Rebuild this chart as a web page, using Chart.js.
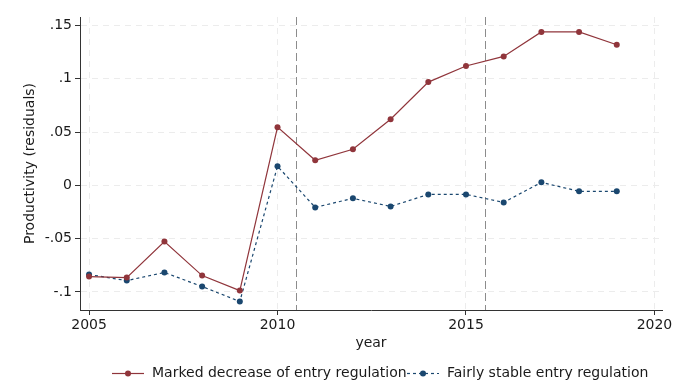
<!DOCTYPE html>
<html>
<head>
<meta charset="utf-8">
<script src="https://cdn.jsdelivr.net/npm/chart.js@4/dist/chart.umd.min.js"></script>
<style>
  html, body { margin: 0; padding: 0; background: #fff; }
  canvas { display: block; }
</style>
</head>
<body>
<canvas id="chart" width="687" height="386"></canvas>
<script>
// Daten
const years = [2005, 2006, 2007, 2008, 2009, 2010, 2011, 2012, 2013, 2014, 2015, 2016, 2017, 2018, 2019];
const markedDecrease = [-0.0856, -0.0866, -0.0527, -0.0847, -0.0988, 0.0546, 0.0235, 0.0339, 0.0621, 0.0969, 0.112, 0.121, 0.144, 0.144, 0.132];
const fairlyStable = [-0.0837, -0.0894, -0.0818, -0.095, -0.109, 0.0179, -0.0207, -0.0122, -0.0198, -0.0085, -0.0085, -0.016, 0.0028, -0.0056, -0.0056];
const seriesLabels = ['Marked decrease of entry regulation', 'Fairly stable entry regulation'];
const xTicks = [2005, 2010, 2015, 2020];
const yTicks = [-0.1, -0.05, 0, 0.05, 0.1, 0.15];
const yTickLabels = ['-.1', '-.05', '0', '.05', '.1', '.15'];
const refLines = [2010.5, 2015.5];

const FONT = 'DejaVu Sans';
const red = '#90353b';
const blue = '#1a476f';

function toPoints(values) {
    return years.map((y, i) => ({ x: y, y: values[i] }));
}

// vertikale Referenzlinien
const refLinePlugin = {
    id: 'refLines',
    beforeDatasetsDraw(chart) {
        const ctx = chart.ctx;
        const area = chart.chartArea;
        const xs = chart.scales.x;
        ctx.save();
        ctx.strokeStyle = '#8c8c8c';
        ctx.lineWidth = 1;
        ctx.setLineDash([8, 4]);
        refLines.forEach(v => {
            const px = Math.round(xs.getPixelForValue(v)) + 0.5;
            ctx.beginPath();
            ctx.moveTo(px, area.top);
            ctx.lineTo(px, area.bottom);
            ctx.stroke();
        });
        ctx.restore();
    }
};

// Legende unten
const legendPlugin = {
    id: 'stataLegend',
    afterDraw(chart) {
        const ctx = chart.ctx;
        const starts = [112, 407];
        const y = 373.5;
        ctx.save();
        ctx.font = '14px "' + FONT + '"';
        ctx.textBaseline = 'middle';
        chart.data.datasets.forEach((ds, i) => {
            const x0 = starts[i];
            ctx.strokeStyle = ds.borderColor;
            ctx.lineWidth = ds.borderWidth;
            ctx.setLineDash(ds.borderDash || []);
            ctx.beginPath();
            ctx.moveTo(x0, y);
            ctx.lineTo(x0 + 32, y);
            ctx.stroke();
            ctx.setLineDash([]);
            ctx.fillStyle = ds.pointBackgroundColor;
            ctx.beginPath();
            ctx.arc(x0 + 16, y, 3, 0, Math.PI * 2);
            ctx.fill();
            ctx.fillStyle = '#1a1a1a';
            ctx.fillText(ds.label, x0 + 40, y);
        });
        ctx.restore();
    }
};

new Chart(document.getElementById('chart'), {
    type: 'line',
    data: {
        datasets: [{
            label: seriesLabels[0],
            data: toPoints(markedDecrease),
            borderColor: red,
            backgroundColor: red,
            pointBackgroundColor: red,
            pointBorderColor: red,
            borderWidth: 1.2,
            pointRadius: 3,
            pointBorderWidth: 0,
            tension: 0
        }, {
            label: seriesLabels[1],
            data: toPoints(fairlyStable),
            borderColor: blue,
            backgroundColor: blue,
            pointBackgroundColor: blue,
            pointBorderColor: blue,
            borderWidth: 1.2,
            borderDash: [3, 3],
            pointRadius: 3,
            pointBorderWidth: 0,
            tension: 0
        }]
    },
    options: {
        responsive: false,
        devicePixelRatio: 1,
        animation: false,
        layout: { padding: { top: 17, right: 25, left: 22, bottom: 31 } },
        plugins: {
            legend: { display: false },
            tooltip: { enabled: false }
        },
        scales: {
            x: {
                type: 'linear',
                min: 2004.76,
                max: 2020.2,
                afterBuildTicks: s => { s.ticks = xTicks.map(v => ({ value: v })); },
                afterFit: s => { s.height = 45; },
                ticks: {
                    color: '#1a1a1a',
                    font: { family: FONT, size: 14 },
                    padding: 2,
                    maxRotation: 0,
                    callback: v => String(v)
                },
                grid: {
                    color: '#ececec',
                    tickBorderDash: [],
                    tickColor: '#333',
                    tickLength: 5,
                    drawTicks: true
                },
                border: { display: true, color: '#333', width: 1, dash: [6, 5] },
                title: {
                    display: true,
                    text: 'year',
                    color: '#1a1a1a',
                    font: { family: FONT, size: 14 },
                    padding: { top: 0, bottom: 3 }
                }
            },
            y: {
                min: -0.117,
                max: 0.158,
                afterBuildTicks: s => { s.ticks = yTicks.map(v => ({ value: v })); },
                afterFit: s => { s.width = 58; },
                ticks: {
                    color: '#1a1a1a',
                    font: { family: FONT, size: 14 },
                    padding: 3,
                    callback: (v) => {
                        const i = yTicks.findIndex(t => Math.abs(t - v) < 1e-9);
                        return i >= 0 ? yTickLabels[i] : '';
                    }
                },
                grid: {
                    color: '#ececec',
                    tickColor: '#333',
                    tickLength: 5,
                    tickBorderDash: []
                },
                border: { display: true, color: '#333', width: 1, dash: [6, 5] },
                title: {
                    display: true,
                    text: 'Productivity (residuals)',
                    color: '#1a1a1a',
                    font: { family: FONT, size: 14 },
                    padding: { top: 0, bottom: 0 }
                }
            }
        }
    },
    plugins: [refLinePlugin, legendPlugin]
});
</script>
</body>
</html>
